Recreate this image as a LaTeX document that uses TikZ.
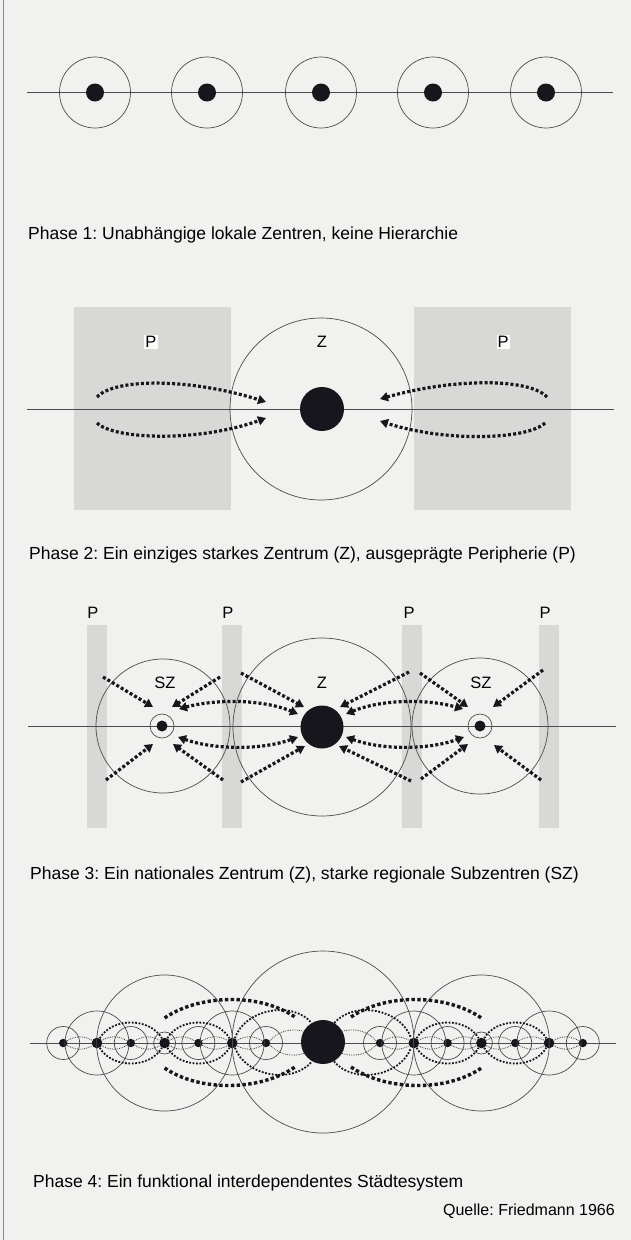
\documentclass[tikz,border=0pt]{standalone}
\usepackage{fontspec}
\setmainfont{Liberation Sans}
\usetikzlibrary{arrows.meta,calc}
\frenchspacing
\definecolor{paper}{RGB}{241,241,239}
\definecolor{zonegray}{RGB}{216,216,214}
\definecolor{ink}{RGB}{22,22,28}
\tikzset{
  axis/.style={draw=black!70, line width=0.7pt},
  ring/.style={draw=black!70, line width=0.7pt},
  dot/.style={circle, fill=ink, inner sep=0pt},
  flow/.style={draw=ink, line width=3.2pt, dash pattern=on 3pt off 2.2pt, -{Triangle[length=8pt,width=9pt]}},
  dflow/.style={flow, {Triangle[length=8pt,width=9pt]}-{Triangle[length=8pt,width=9pt]}},
  fflow/.style={draw=ink, line width=3.4pt, dash pattern=on 3.4pt off 2.4pt},
  mflow/.style={draw=ink, line width=1.8pt, dash pattern=on 1.8pt off 1.6pt},
  sflow/.style={draw=black!75, line width=0.8pt, dash pattern=on 0.8pt off 1pt},
  zone/.style={fill=zonegray, draw=none},
  lab/.style={font=\fontsize{16.5}{18}\selectfont, inner sep=1pt},
  caption/.style={font=\fontsize{17.5}{20}\selectfont, inner sep=0pt, anchor=base west},
}

\begin{document}
\begin{tikzpicture}[x=1pt, y=-1pt]
  \useasboundingbox (0,0) rectangle (631,1240);
  \fill[paper] (0,0) rectangle (631,1240);
  \draw[black!45, line width=0.8pt] (3.5,0) -- (3.5,1240);

  % Phase 1
  \draw[axis] (27,92.5) -- (613,92.5);
  \foreach \i/\x in {1/95,2/207,3/321,4/433,5/546} {
    \node[dot, minimum size=18] (c\i) at (\x,92.5) {};
    \draw[ring] (c\i) circle[radius=35.5];
  }
  \node[caption] (cap1) at (28,239) {Phase 1: Unabhängige lokale Zentren, keine Hierarchie};

  % Phase 2
  \fill[zone] (74,307) rectangle (231,510);
  \fill[zone] (414,307) rectangle (571,510);
  \draw[axis] (27,409) -- (614,409);
  \node[dot, minimum size=44] (z2) at (322,409) {};
  \draw[ring] (321,409) circle[radius=91];
  \node[lab, fill=white!70!paper] (p2l) at (151,342) {P};
  \node[lab] (z2lab) at (322,342) {Z};
  \node[lab, fill=white!70!paper] (p2r) at (503,342) {P};
  \coordinate (pl1) at (97,397);
  \coordinate (pl2) at (97,423);
  \coordinate (pr1) at (547,397);
  \coordinate (pr2) at (545,423);
  \draw[flow] (pl1) .. controls (115,378) and (190,378) .. ($(z2)+(-56,-7)$);
  \draw[flow] (pl2) .. controls (115,440) and (200,442) .. ($(z2)+(-56,9)$);
  \draw[flow] (pr1) .. controls (529,378) and (454,378) .. ($(z2)+(58,-10)$);
  \draw[flow] (pr2) .. controls (527,440) and (444,442) .. ($(z2)+(58,12)$);
  \node[caption] (cap2) at (29,559) {Phase 2: Ein einziges starkes Zentrum (Z), ausgeprägte Peripherie (P)};

  % Phase 3
  \foreach \x in {97,232,412,549}
    \fill[zone] (\x-10,625) rectangle (\x+10,828);
  \foreach \x/\n in {93/1,228/2,409/3,545/4}
    \node[lab] (p3\n) at (\x,613) {P};
  \draw[axis] (28,726) -- (616,726);
  \node[dot, minimum size=43] (z3) at (322,727) {};
  \node[dot, minimum size=11] (szl) at (162,726) {};
  \node[dot, minimum size=11] (szr) at (480,726) {};
  \draw[ring] (z3) circle[radius=89];
  \draw[ring] (szl) circle[radius=12];
  \draw[ring] (szr) circle[radius=12];
  \draw[ring] (163,726) circle[radius=67];
  \draw[ring] (480,726) circle[radius=68];
  \node[lab] (sz1) at (165,683) {SZ};
  \node[lab] (z3lab) at (322,683) {Z};
  \node[lab] (sz2) at (481,683) {SZ};
  \coordinate (q1) at (103,677);
  \coordinate (q2) at (106,780);
  \coordinate (q3) at (220,677);
  \coordinate (q4) at (223,780);
  \coordinate (q5) at (241,673);
  \coordinate (q6) at (241,782);
  \coordinate (q7) at (409,672);
  \coordinate (q8) at (411,781);
  \coordinate (q9) at (420,673);
  \coordinate (q10) at (421,779);
  \coordinate (q11) at (543,670);
  \coordinate (q12) at (541,780);
  \draw[flow] (q1) -- ($(szl)+(-9,-19)$);
  \draw[flow] (q2) -- ($(szl)+(-9,18)$);
  \draw[flow] (q3) -- ($(szl)+(10,-19)$);
  \draw[flow] (q4) -- ($(szl)+(11,18)$);
  \draw[flow] (q5) -- ($(z3)+(-18,-20)$);
  \draw[flow] (q6) -- ($(z3)+(-17,19)$);
  \draw[flow] (q7) -- ($(z3)+(18,-20)$);
  \draw[flow] (q8) -- ($(z3)+(17,19)$);
  \draw[flow] (q9) -- ($(szr)+(-12,-19)$);
  \draw[flow] (q10) -- ($(szr)+(-12,18)$);
  \draw[flow] (q11) -- ($(szr)+(13,-19)$);
  \draw[flow] (q12) -- ($(szr)+(14,19)$);
  \draw[dflow] ($(szl)+(17,-17)$) .. controls (215,699) and (262,699) .. ($(z3)+(-24,-13)$);
  \draw[dflow] ($(szl)+(16,11)$) .. controls (215,750) and (262,750) .. ($(z3)+(-24,10)$);
  \draw[dflow] ($(z3)+(24,-13)$) .. controls (382,699) and (428,699) .. ($(szr)+(-17,-17)$);
  \draw[dflow] ($(z3)+(24,10)$) .. controls (382,750) and (428,750) .. ($(szr)+(-16,11)$);
  \node[caption] (cap3) at (30,879) {Phase 3: Ein nationales Zentrum (Z), starke regionale Subzentren (SZ)};

  % Phase 4
  \draw[axis] (30,1043) -- (616,1043);
  \node[dot, minimum size=44] (z4) at (323,1042) {};
  \draw[ring] (z4) circle[radius=91];
  \foreach \k in {0,2,4,6} {
    \pgfmathsetmacro\d{57+33.8*\k}
    \node[dot, minimum size=8.4] (l\k) at (323-\d,1043) {};
    \node[dot, minimum size=8.4] (r\k) at (323+\d,1043) {};
    \draw[ring] (l\k) circle[radius=16.5];
    \draw[ring] (r\k) circle[radius=16.5];
  }
  \foreach \k in {1,3,5} {
    \pgfmathsetmacro\d{57+33.8*\k}
    \node[dot, minimum size=10.6] (l\k) at (323-\d,1043) {};
    \node[dot, minimum size=10.6] (r\k) at (323+\d,1043) {};
  }
  \foreach \s in {l,r} {
    \draw[ring] (\s1) circle[radius=32];
    \draw[ring] (\s5) circle[radius=32];
    \draw[ring] (\s3) circle[radius=11];
    \draw[ring] (\s3) circle[radius=68];
  }
  \foreach \a/\b in {l6/l5,l5/l4,l4/l3,l3/l2,l2/l1,l1/l0,l0/z4,z4/r0,r0/r1,r1/r2,r2/r3,r3/r4,r4/r5,r5/r6} {
    \draw[sflow] (\a) to[bend left=30] (\b);
    \draw[sflow] (\a) to[bend right=30] (\b);
  }
  \foreach \a/\b in {l5/l3,l3/l1,l1/z4,z4/r1,r1/r3,r3/r5} {
    \draw[mflow] (\a) to[bend left=60] (\b);
    \draw[mflow] (\a) to[bend right=60] (\b);
  }
  \draw[fflow] ($(l3)+(0,-25)$) .. controls ($(l3)+(35,-49)$) and ($(z4)+(-63,-49)$) .. ($(z4)+(-28,-25)$);
  \draw[fflow] ($(l3)+(0,25)$) .. controls ($(l3)+(35,49)$) and ($(z4)+(-63,49)$) .. ($(z4)+(-28,25)$);
  \draw[fflow] ($(z4)+(28,-25)$) .. controls ($(z4)+(63,-49)$) and ($(r3)+(-35,-49)$) .. ($(r3)+(0,-25)$);
  \draw[fflow] ($(z4)+(28,25)$) .. controls ($(z4)+(63,49)$) and ($(r3)+(-35,49)$) .. ($(r3)+(0,25)$);
  \node[caption] (cap4) at (33,1187) {Phase 4: Ein funktional interdependentes Städtesystem};
  \node[caption, anchor=base east, font=\fontsize{16}{18}\selectfont] (src) at (615,1215) {Quelle: Friedmann 1966};
\end{tikzpicture}
\end{document}
